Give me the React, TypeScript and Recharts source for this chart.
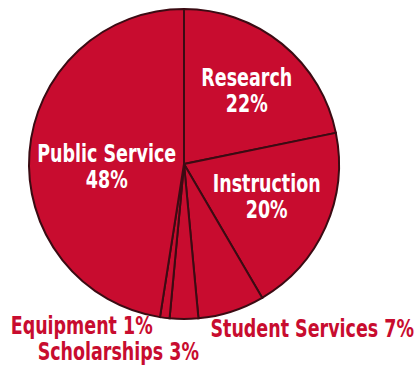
import { PieChart, Pie, Cell } from "recharts";

// budget shares, clockwise from the top
const categories = [
	"Research",
	"Instruction",
	"Student Services",
	"Scholarships",
	"Equipment",
	"Public Service",
];
const shares = [22, 20, 7, 3, 1, 48];

const data = categories.map((name, i) => ({ name, value: shares[i] }));

const FILL = "#c80c2f";
const EDGE = "#3b0b13";
const FONT = "'DejaVu Sans Condensed', sans-serif";
const SQUEEZE = 0.81; // no condensed bold face installed, so narrow it by hand
const RAD = Math.PI / 180;

// label placement: inside ones sit on the slice bisector, outside ones hang off the rim
const layout: Record<string, any> = {
	Research: { inside: true, r: 0.6, dx: 4, dy: -2 },
	Instruction: { inside: true, r: 0.57, dx: 2, dy: -4 },
	"Public Service": { inside: true, r: 0.5, dx: 0, dy: 8 },
	"Student Services": { inside: false, dx: -21, dy: 25, anchor: "start" },
	Scholarships: { inside: false, dx: 15, dy: 41, anchor: "end" },
	Equipment: { inside: false, dx: -12, dy: 16, anchor: "end" },
};

const squeeze = (x: number) =>
	`translate(${x},0) scale(${SQUEEZE},1) translate(${-x},0)`;

const renderLabel = (props: any) => {
	const { cx, cy, midAngle, outerRadius, name, value } = props;
	const cfg = layout[name];
	if (!cfg) return null;
	const cos = Math.cos(-midAngle * RAD);
	const sin = Math.sin(-midAngle * RAD);

	if (cfg.inside) {
		const x = cx + outerRadius * cfg.r * cos + cfg.dx;
		const y = cy + outerRadius * cfg.r * sin + cfg.dy;
		return (
			<text
				x={x}
				y={y}
				transform={squeeze(x)}
				fill="#ffffff"
				fontFamily={FONT}
				fontWeight="bold"
				fontSize={24}
				textAnchor="middle"
			>
				<tspan x={x} y={y - 4}>
					{name}
				</tspan>
				<tspan x={x} y={y + 22}>
					{value}%
				</tspan>
			</text>
		);
	}

	const x = cx + outerRadius * cos + cfg.dx;
	const y = cy + outerRadius * sin + cfg.dy;
	return (
		<text
			x={x}
			y={y}
			transform={squeeze(x)}
			fill={FILL}
			fontFamily={FONT}
			fontWeight="bold"
			fontSize={24}
			textAnchor={cfg.anchor}
		>
			{name} {value}%
		</text>
	);
};

const App = () => {
	return (
		<div style={{ position: "absolute", left: 0, top: 0, background: "#fff" }}>
			<PieChart
				width={417}
				height={365}
				margin={{ top: 0, right: 0, bottom: 0, left: 0 }}
			>
				<Pie
					data={data}
					dataKey="value"
					nameKey="name"
					cx={184}
					cy={164}
					outerRadius={155}
					startAngle={90}
					endAngle={-270}
					stroke={EDGE}
					strokeWidth={2}
					label={renderLabel}
					labelLine={false}
					isAnimationActive={false}
				>
					{data.map((d) => (
						<Cell key={d.name} fill={FILL} />
					))}
				</Pie>
			</PieChart>
		</div>
	);
};

export default App;
